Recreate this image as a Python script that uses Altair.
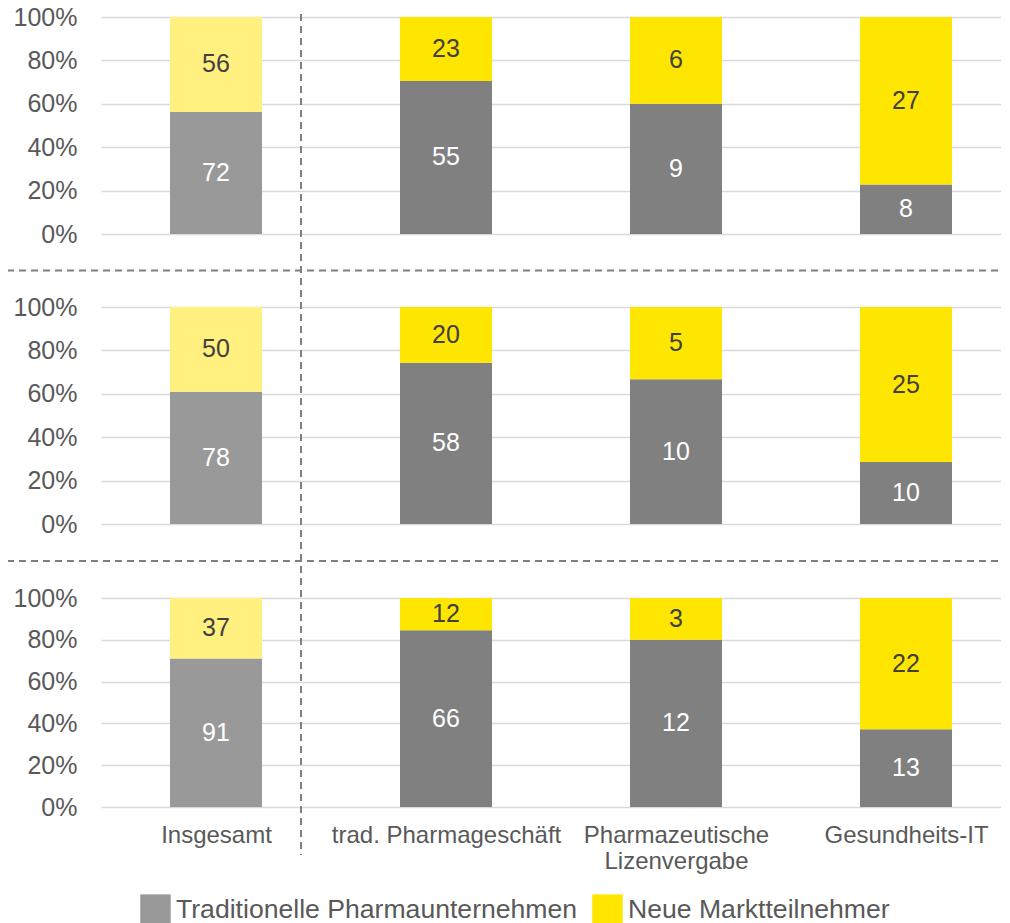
import altair as alt
import pandas as pd

# ---------------- data ----------------
categories = ["Insgesamt", "trad. Pharmageschäft", "Pharmazeutische\nLizenvergabe", "Gesundheits-IT"]
series_names = ["Traditionelle Pharmaunternehmen", "Neue Marktteilnehmer"]

# rows from top to bottom
traditionelle = [
    [72, 55, 9, 8],
    [78, 58, 10, 10],
    [91, 66, 12, 13],
]
neue = [
    [56, 23, 6, 27],
    [50, 20, 5, 25],
    [37, 12, 3, 22],
]
tick_pcts = [0, 20, 40, 60, 80, 100]
row_bases = [400, 200, 0]   # vertical offset (in % units) of each row block

# colour keys: overall column uses lighter shades
color_keys = [series_names[0], series_names[1], "trad_dark", "neue_light"]
color_vals = ["#999999", "#FFE600", "#808080", "#FFF07F"]

FONT = "Liberation Sans"
GREY_TXT = "#595959"

# ---------------- table ----------------
recs = []
for r, base in enumerate(row_bases):
    for c, cat in enumerate(categories):
        t, n = traditionelle[r][c], neue[r][c]
        p = t / (t + n) * 100
        overall = c == 0
        recs.append(dict(xi=c, y0=base, y1=base + p, val=t,
                         key=series_names[0] if overall else "trad_dark",
                         tc="#ffffff"))
        recs.append(dict(xi=c, y0=base + p, y1=base + 100, val=n,
                         key="neue_light" if overall else series_names[1],
                         tc="#404040"))
df = pd.DataFrame(recs)
df["ymid"] = (df["y0"] + df["y1"]) / 2

# ---------------- scales / axes ----------------
y_dom = []
for b in sorted(row_bases):
    y_dom += [b, b + 100]
# pixel positions of each row's 0% / 100% line (bottom row first)
y_rng = [790, 581, 507, 290, 217, 0]
yscale = alt.Scale(domain=y_dom, range=y_rng, nice=False, zero=False, padding=0)
xscale = alt.Scale(domain=[-0.5, 3.413], nice=False, zero=False, padding=0)

tick_vals = [b + t for b in row_bases for t in tick_pcts]

label_parts = []
for i, cat in enumerate(categories):
    parts = cat.split("\n")
    lab = "'" + parts[0] + "'" if len(parts) == 1 else "[" + ",".join("'" + s + "'" for s in parts) + "]"
    label_parts.append((i, lab))
x_label_expr = ""
for i, lab in label_parts[:-1]:
    x_label_expr += f"datum.value == {i} ? {lab} : "
x_label_expr += label_parts[-1][1]

xaxis = alt.Axis(values=list(range(len(categories))), labelExpr=x_label_expr,
                 grid=False, domain=False, ticks=False,
                 labelPadding=16, labelFontSize=24, labelColor=GREY_TXT,
                 labelFont=FONT, labelLineHeight=26, labelOverlap=False,
                 labelFlush=False, labelBaseline="top", labelLimit=0, title="")
yaxis = alt.Axis(values=tick_vals, labelExpr="(datum.value % 200) + '%'",
                 grid=True, gridColor="#d9d9d9", gridWidth=1.5,
                 domain=False, ticks=False, labelPadding=24,
                 labelFontSize=25, labelColor=GREY_TXT, labelFont=FONT,
                 labelLimit=0, title="")

base = alt.Chart(df)

bars = base.mark_bar(size=92).encode(
    x=alt.X("xi:Q", scale=xscale, axis=xaxis),
    y=alt.Y("y0:Q", scale=yscale, axis=yaxis),
    y2="y1:Q",
    color=alt.Color("key:N", scale=alt.Scale(domain=color_keys, range=color_vals),
                    legend=alt.Legend(values=series_names, orient="none", legendX=39,
                                      legendY=877, direction="horizontal",
                                      symbolType="square", symbolSize=930,
                                      symbolStrokeWidth=0, symbolOpacity=1,
                                      labelFontSize=26.6, labelColor=GREY_TXT,
                                      labelFont=FONT, labelOffset=5, columnPadding=14,
                                      labelLimit=0, title="")),
)

labels = base.mark_text(fontSize=25, font=FONT, baseline="middle").encode(
    x=alt.X("xi:Q", scale=xscale, axis=xaxis),
    y=alt.Y("ymid:Q", scale=yscale, axis=yaxis),
    text="val:Q",
    fill=alt.Fill("tc:N", scale=None, legend=None),
)

sep_vals = [(row_bases[i] + row_bases[i + 1] + 100) / 2 for i in range(len(row_bases) - 1)]
seps = alt.Chart(pd.DataFrame({"ys": sep_vals})).mark_rule(
    color="#808080", strokeWidth=2, strokeDash=[7, 5]
).encode(
    y=alt.Y("ys:Q", scale=yscale, axis=yaxis),
    x=alt.value(-94),
    x2=alt.value(900),
)

vline = alt.Chart(pd.DataFrame({"a": [0]})).mark_rule(
    color="#808080", strokeWidth=2, strokeDash=[7, 5]
).encode(
    x=alt.value(200),
    y=alt.value(-3),
    y2=alt.value(838),
)

chart = alt.layer(bars, labels, seps, vline).properties(
    width=900, height=790,
    autosize=alt.AutoSizeParams(type="none"),
    padding={"left": 93, "top": 9, "right": 0, "bottom": 116},
    background="white",
).configure_view(strokeWidth=0)

chart.save("out.html", embed_options={"renderer": "svg", "actions": False})
